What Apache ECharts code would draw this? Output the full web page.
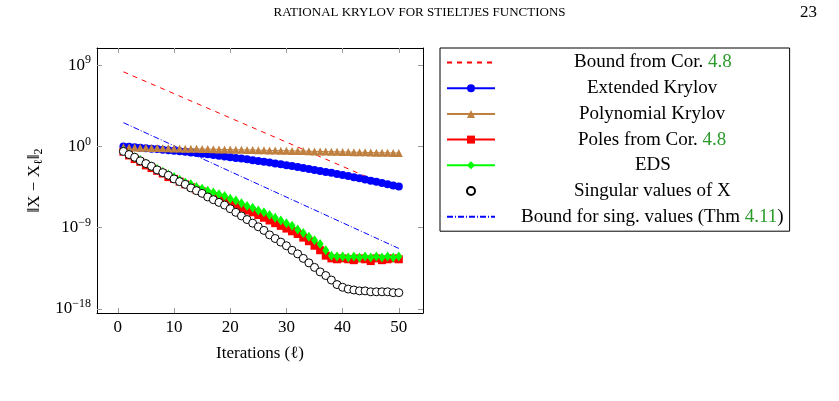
<!DOCTYPE html>
<html><head><meta charset="utf-8">
<script src="https://cdn.jsdelivr.net/npm/echarts@6/dist/echarts.min.js"></script>
<style>body{margin:0;background:#fff}#c{width:839px;height:401px}</style></head>
<body><div id="c"></div>
<script>
const iters = Array.from({length:50},(_,i)=>i+1);
// values are log10 of the error
const boundCor = [8.26,-4.9];           // dashed line endpoints at l=1 and l=50
const boundSing = [2.63,-11.3];         // dash-dot line endpoints at l=1 and l=50
const extended = [0,-0.05,-0.1,-0.15,-0.2,-0.25,-0.3,-0.36,-0.42,-0.48,-0.54,-0.6,-0.67,-0.74,-0.81,-0.88,-0.95,-1.03,-1.11,-1.19,-1.27,-1.35,-1.43,-1.52,-1.61,-1.7,-1.79,-1.88,-1.98,-2.08,-2.18,-2.28,-2.38,-2.49,-2.6,-2.71,-2.82,-2.93,-3.05,-3.17,-3.29,-3.41,-3.53,-3.66,-3.79,-3.92,-4.05,-4.18,-4.32,-4.45];
const polynomial = [-0.1,-0.12,-0.13,-0.14,-0.16,-0.17,-0.18,-0.2,-0.21,-0.22,-0.23,-0.25,-0.26,-0.27,-0.29,-0.3,-0.31,-0.33,-0.34,-0.35,-0.37,-0.38,-0.39,-0.4,-0.42,-0.43,-0.44,-0.46,-0.47,-0.48,-0.5,-0.51,-0.52,-0.53,-0.55,-0.56,-0.57,-0.59,-0.6,-0.61,-0.63,-0.64,-0.65,-0.66,-0.68,-0.69,-0.7,-0.71,-0.72,-0.73];
const poles = [-0.6,-1.0,-1.4,-1.7,-2.1,-2.4,-2.7,-3.0,-3.4,-3.6,-3.9,-4.2,-4.5,-4.8,-5.0,-5.3,-5.5,-5.7,-6.0,-6.3,-6.5,-6.8,-7.1,-7.3,-7.6,-7.9,-8.2,-8.5,-8.8,-9.1,-9.4,-9.7,-10.1,-10.5,-11.0,-11.5,-12.1,-12.4,-12.5,-12.4,-12.5,-12.6,-12.4,-12.5,-12.7,-12.4,-12.6,-12.5,-12.4,-12.5];
const eds = [-0.5,-0.9,-1.2,-1.5,-1.9,-2.2,-2.5,-2.8,-3.1,-3.4,-3.7,-4.0,-4.2,-4.5,-4.7,-4.9,-5.1,-5.3,-5.5,-5.8,-6.0,-6.3,-6.6,-6.8,-7.1,-7.3,-7.6,-7.9,-8.2,-8.5,-8.8,-9.2,-9.6,-10.0,-10.4,-10.8,-11.5,-12.1,-12.2,-12.2,-12.3,-12.2,-12.3,-12.2,-12.3,-12.2,-12.3,-12.2,-12.3,-12.2];
const singular = [-0.55,-0.9,-1.2,-1.6,-1.9,-2.2,-2.6,-2.9,-3.2,-3.6,-3.9,-4.2,-4.6,-4.9,-5.2,-5.6,-5.9,-6.2,-6.5,-6.9,-7.3,-7.7,-8.1,-8.5,-8.9,-9.3,-9.8,-10.2,-10.6,-11.0,-11.5,-11.9,-12.4,-12.9,-13.4,-13.9,-14.3,-14.8,-15.3,-15.6,-15.8,-15.9,-16.0,-16.0,-16.1,-16.1,-16.1,-16.1,-16.2,-16.2];
const yTicks = [-18,-9,0,9];
const xTicks = [0,10,20,30,40,50];
const names = ['Bound from Cor. 4.8','Extended Krylov','Polynomial Krylov','Poles from Cor. 4.8','EDS','Singular values of X','Bound for sing. values (Thm 4.11)'];

const F = 'Liberation Serif';
const pair = a => iters.map((x,i)=>[x,a[i]]);
const ticksY = {show:true,inside:true,length:5,customValues:yTicks,lineStyle:{color:'#999'}};
const ticksX = {show:true,inside:true,length:5,customValues:xTicks,lineStyle:{color:'#999'}};
const supRich = {b:{fontFamily:F,fontSize:17,color:'#000'},s:{fontFamily:F,fontSize:12,color:'#000',verticalAlign:'top',padding:[0,0,10,0]}};
const chart = echarts.init(document.getElementById('c'));
const LF = 19;
const cv = document.createElement('canvas').getContext('2d');
cv.font = LF+'px "Liberation Serif"';
const BOX = 305;
const greenNum = n => {
  const pad = Math.max(0,(BOX - cv.measureText(n).width)/2);
  const m = n.match(/^(.*?)(\d+\.\d+)(.*)$/);
  const body = m ? '{t|'+m[1]+'}{g|'+m[2]+'}{t|'+m[3]+'}' : '{t|'+n+'}';
  return '{p'+Math.round(pad)+'|}'+body;
};
const legendRich = {t:{fontFamily:F,fontSize:LF,color:'#000'},g:{fontFamily:F,fontSize:LF,color:'#2a9a2a'}};
for(let i=0;i<=200;i++) legendRich['p'+i] = {width:i};
chart.setOption({
  animation:false,
  graphic:[
    {type:'text',left:'center',top:6,style:{text:'RATIONAL KRYLOV FOR STIELTJES FUNCTIONS',fontFamily:F,fontSize:13,fill:'#000'}},
    {type:'text',left:800,top:4,style:{text:'23',fontFamily:F,fontSize:17,fill:'#000'}}
  ],
  grid:{left:97,right:416,top:48,bottom:88},
  xAxis:[
    {type:'value',min:-3.7,max:54.3,axisLine:{onZero:false,lineStyle:{color:'#000'}},splitLine:{show:false},axisTick:ticksX,
     axisLabel:{customValues:xTicks,fontFamily:F,fontSize:17,color:'#000',margin:6},
     name:'Iterations (ℓ)',nameLocation:'middle',nameGap:32,nameTextStyle:{fontFamily:F,fontSize:17,color:'#000'}},
    {type:'value',position:'top',min:-3.7,max:54.3,axisLine:{onZero:false,lineStyle:{color:'#000'}},splitLine:{show:false},axisTick:ticksX,axisLabel:{show:false}}
  ],
  yAxis:[
    {type:'value',min:-18.45,max:10.9,axisLine:{show:true,onZero:false,lineStyle:{color:'#000'}},splitLine:{show:false},axisTick:ticksY,
     axisLabel:{customValues:yTicks,formatter:v=>'{b|10}{s|'+(v<0?'−'+(-v):v)+'}',rich:supRich,margin:6},
     name:'{n|‖X − X}{i|ℓ}{n|‖}{i|2}',nameLocation:'middle',nameGap:52,
     nameTextStyle:{rich:{n:{fontFamily:F,fontSize:17,color:'#000'},i:{fontFamily:F,fontSize:12,color:'#000',verticalAlign:'bottom',padding:[8,0,0,0]}}}},
    {type:'value',position:'right',min:-18.45,max:10.9,axisLine:{show:true,onZero:false,lineStyle:{color:'#000'}},splitLine:{show:false},axisTick:ticksY,axisLabel:{show:false}}
  ],
  legend:{orient:'vertical',left:440,top:48,itemWidth:48,itemHeight:10,itemGap:6.7,
    padding:[5,6,5,6],borderColor:'#000',borderWidth:1,data:names,
    formatter:n=>greenNum(n),
    textStyle:{width:BOX,rich:legendRich}},
  series:[
    {name:names[0],type:'line',data:[[1,boundCor[0]],[50,boundCor[1]]],symbol:'none',legendIcon:'none',lineStyle:{color:'#f00',width:1,type:[5,5]},itemStyle:{color:'#f00',opacity:0}},
    {name:names[1],type:'line',data:pair(extended),symbol:'circle',symbolSize:8,lineStyle:{color:'#00f',width:1},itemStyle:{color:'#00f'}},
    {name:names[2],type:'line',data:pair(polynomial),symbol:'triangle',symbolSize:8,lineStyle:{color:'#bf8040',width:1},itemStyle:{color:'#bf8040'}},
    {name:names[3],type:'line',data:pair(poles),symbol:'rect',symbolSize:8,lineStyle:{color:'#f00',width:1},itemStyle:{color:'#f00'}},
    {name:names[4],type:'line',data:pair(eds),symbol:'diamond',symbolSize:[7,10],lineStyle:{color:'#0f0',width:1},itemStyle:{color:'#0f0'}},
    {name:names[5],type:'line',data:pair(singular),symbol:'circle',symbolSize:8,lineStyle:{width:0,color:'#000'},itemStyle:{color:'#fff',borderColor:'#000',borderWidth:1}},
    {name:names[6],type:'line',data:[[1,boundSing[0]],[50,boundSing[1]]],symbol:'none',legendIcon:'none',lineStyle:{color:'#00f',width:1,type:[6,2,1,2]},itemStyle:{color:'#00f',opacity:0}}
  ]
});
</script></body></html>
